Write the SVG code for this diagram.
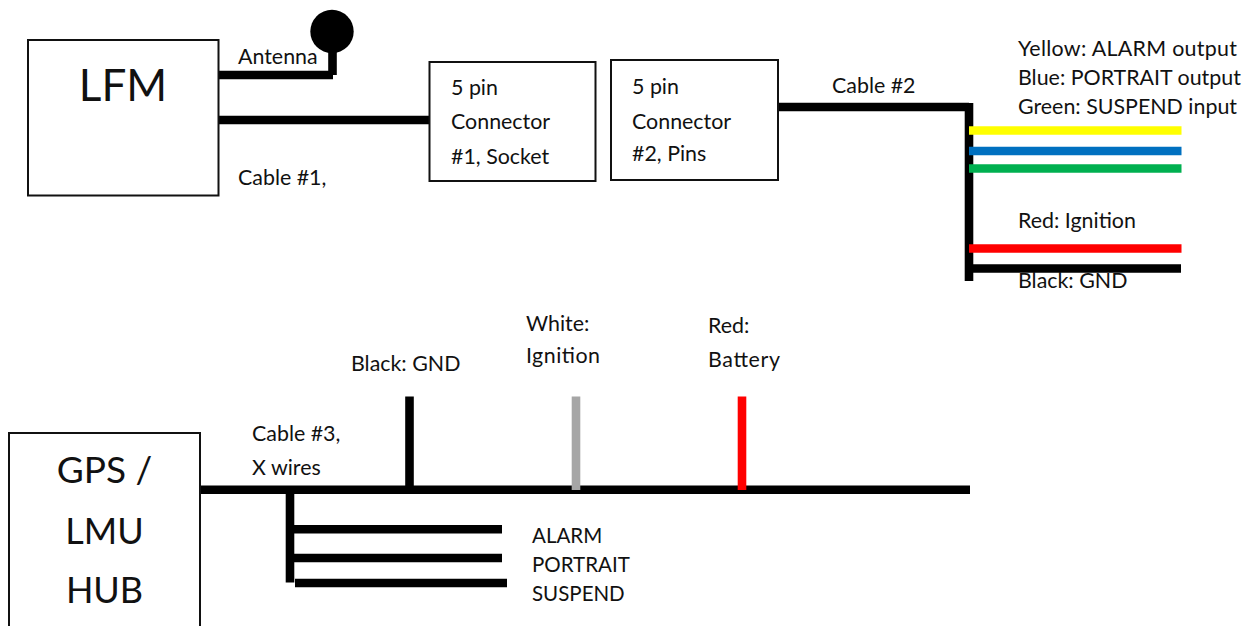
<svg xmlns="http://www.w3.org/2000/svg" width="1259" height="626" viewBox="0 0 1259 626">
<style>
text{font-family:Lato,"Liberation Sans",sans-serif;font-size:21.4px;fill:#111}
.big{font-size:44px;text-anchor:middle}
.hub{font-size:36px}
.caps{font-size:20.500px}
.box{fill:#fff;stroke:#111;stroke-width:2}
.w{fill:none;stroke:#000;stroke-width:8.6}
</style>
<rect width="1259" height="626" fill="#fff"/>
<g id="connectors">
<path class="w" d="M218 75H333M332.500 50V75M218 120H430"/>
<path class="w" d="M778 107H969M969 103V281M973 268.500H1181"/>
<path class="w" style="stroke:#ff0" d="M969 130.500H1181.500"/>
<path class="w" style="stroke:#0070c0" d="M969 151H1181.500"/>
<path class="w" style="stroke:#00b050" d="M969 168.500H1181.500"/>
<path class="w" style="stroke:#f00" d="M969 248.500H1181.500"/>
<path class="w" d="M200 489.800H970M409.500 396.500V489M290 490V582.500M290 529.300H502M290 558H502M295 583H507"/>
<path class="w" style="stroke:#a6a6a6" d="M576 396.500V490"/>
<path class="w" style="stroke:#f00" d="M742 396.500V490"/>
</g>
<g id="antenna"><circle cx="332" cy="31.500" r="21.700" fill="#000"/></g>
<g id="lfm"><rect class="box" x="28" y="40" width="190.500" height="155.500"/><text class="big" x="123" y="101">LFM</text></g>
<g id="connector1"><rect class="box" x="429.500" y="62" width="166" height="119"/><text x="451" y="95">5 pin</text><text x="451" y="129">Connector</text><text x="451" y="164">#1, Socket</text></g>
<g id="connector2"><rect class="box" x="611" y="60" width="167" height="120"/><text x="632" y="94">5 pin</text><text x="632" y="129">Connector</text><text x="632" y="161">#2, Pins</text></g>
<g id="hub"><rect class="box" x="9" y="433" width="191" height="200"/><text class="big hub" x="104.500" y="483" style="font-size:37px">GPS /</text><text class="big hub" x="104.500" y="544">LMU</text><text class="big hub" x="104.500" y="603">HUB</text></g>
<g id="labels">
<text x="238" y="64">Antenna</text>
<text x="238" y="185">Cable #1,</text>
<text x="832" y="93">Cable #2</text>
<text x="1018" y="56" textLength="219">Yellow: ALARM output</text>
<text x="1018" y="85">Blue: PORTRAIT output</text>
<text x="1018" y="114">Green: SUSPEND input</text>
<text x="1018" y="228">Red: Ignition</text>
<text x="1018" y="288">Black: GND</text>
<text x="351" y="371">Black: GND</text>
<text x="526" y="331">White:</text>
<text x="526" y="363" textLength="74">Ignition</text>
<text x="708" y="333">Red:</text>
<text x="708" y="367" textLength="72">Battery</text>
<text x="252" y="441">Cable #3,</text>
<text x="252" y="475">X wires</text>
<text class="caps" x="532" y="543">ALARM</text>
<text class="caps" x="532" y="572">PORTRAIT</text>
<text class="caps" x="532" y="601">SUSPEND</text>
</g>
</svg>
